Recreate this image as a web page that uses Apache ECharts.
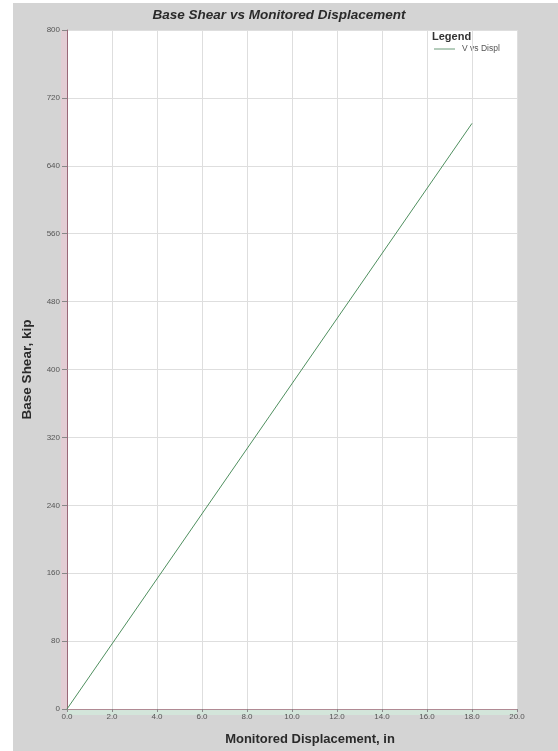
<!DOCTYPE html>
<html>
<head>
<meta charset="utf-8">
<script src="https://cdn.jsdelivr.net/npm/echarts@6/dist/echarts.min.js"></script>
<style>
  html, body { margin: 0; padding: 0; background: #ffffff; }
  #chart { width: 558px; height: 751px; }
</style>
</head>
<body>
<div id="chart"></div>
<script>
// Pushover curve: base shear against monitored roof displacement
const displacement = [0.0, 18.0];          // in
const baseShear = [0, 690];                // kip
const xTicks = ['0.0', '2.0', '4.0', '6.0', '8.0', '10.0', '12.0', '14.0', '16.0', '18.0', '20.0'];
const yTicks = ['0', '80', '160', '240', '320', '400', '480', '560', '640', '720', '800'];

const W = 558, H = 751;
const G = { left: 67, right: 41, top: 30, bottom: 42 };
const plotL = G.left, plotR = W - G.right, plotT = G.top, plotB = H - G.bottom;
const FONT = '"Liberation Sans", Arial, sans-serif';

const chart = echarts.init(document.getElementById('chart'), null, { renderer: 'canvas' });

const points = displacement.map((d, i) => [d, baseShear[i]]);

chart.setOption({
  animation: false,
  backgroundColor: '#ffffff',
  graphic: [
    // grey panel behind the chart
    { type: 'rect', z: -10, shape: { x: 13, y: 3, width: W - 13, height: H - 3 }, style: { fill: '#d4d4d4' } },
    // soft tint beside the axes
    { type: 'rect', z: -5, shape: { x: plotL - 6, y: plotT, width: 6, height: plotB - plotT }, style: { fill: '#e3cdd4' } },
    { type: 'rect', z: -5, shape: { x: plotL, y: plotB, width: plotR - plotL, height: 6 }, style: { fill: '#d3e5da' } },
    // legend
    { type: 'text', left: 432, top: 31, style: { text: 'Legend', font: 'bold 11px ' + FONT, fill: '#333' } },
    { type: 'line', shape: { x1: 434, y1: 49, x2: 455, y2: 49 }, style: { stroke: '#6a9a78', lineWidth: 1 } },
    { type: 'text', left: 462, top: 44, style: { text: 'V vs Displ', font: '8.5px ' + FONT, fill: '#555' } }
  ],
  title: {
    text: 'Base Shear vs Monitored Displacement',
    left: 'center',
    top: 3,
    textStyle: { fontFamily: FONT, fontSize: 13.5, fontWeight: 'bold', fontStyle: 'italic', color: '#2a2a2a' }
  },
  grid: { left: G.left, right: G.right, top: G.top, bottom: G.bottom, show: true, backgroundColor: '#ffffff', borderWidth: 0 },
  xAxis: {
    type: 'value', min: 0, max: 20, interval: 2,
    name: 'Monitored Displacement, in',
    nameLocation: 'middle', nameGap: 24,
    nameTextStyle: { fontFamily: FONT, fontSize: 13, fontWeight: 'bold', color: '#2a2a2a', padding: [0, 0, 0, 36] },
    axisLine: { show: true, lineStyle: { color: '#b08a94', width: 1 } },
    axisTick: { show: true, length: 3, lineStyle: { color: '#888' } },
    axisLabel: {
      fontFamily: FONT, fontSize: 8, color: '#555', margin: 4,
      formatter: (v) => xTicks[Math.round(v / 2)]
    },
    splitLine: { show: true, lineStyle: { color: '#dedede', width: 1 } }
  },
  yAxis: {
    type: 'value', min: 0, max: 800, interval: 80,
    name: 'Base Shear, kip',
    nameLocation: 'middle', nameGap: 33,
    nameTextStyle: { fontFamily: FONT, fontSize: 13.5, fontWeight: 'bold', color: '#2a2a2a' },
    axisLine: { show: true, lineStyle: { color: '#9a6878', width: 1 } },
    axisTick: { show: true, length: 5, lineStyle: { color: '#888' } },
    axisLabel: {
      fontFamily: FONT, fontSize: 8, color: '#555', margin: 7,
      formatter: (v) => yTicks[Math.round(v / 80)]
    },
    splitLine: { show: true, lineStyle: { color: '#dedede', width: 1 } }
  },
  series: [{
    name: 'V vs Displ',
    type: 'line',
    data: points,
    showSymbol: false,
    lineStyle: { color: '#4f8f5f', width: 1 }
  }]
});
</script>
</body>
</html>
